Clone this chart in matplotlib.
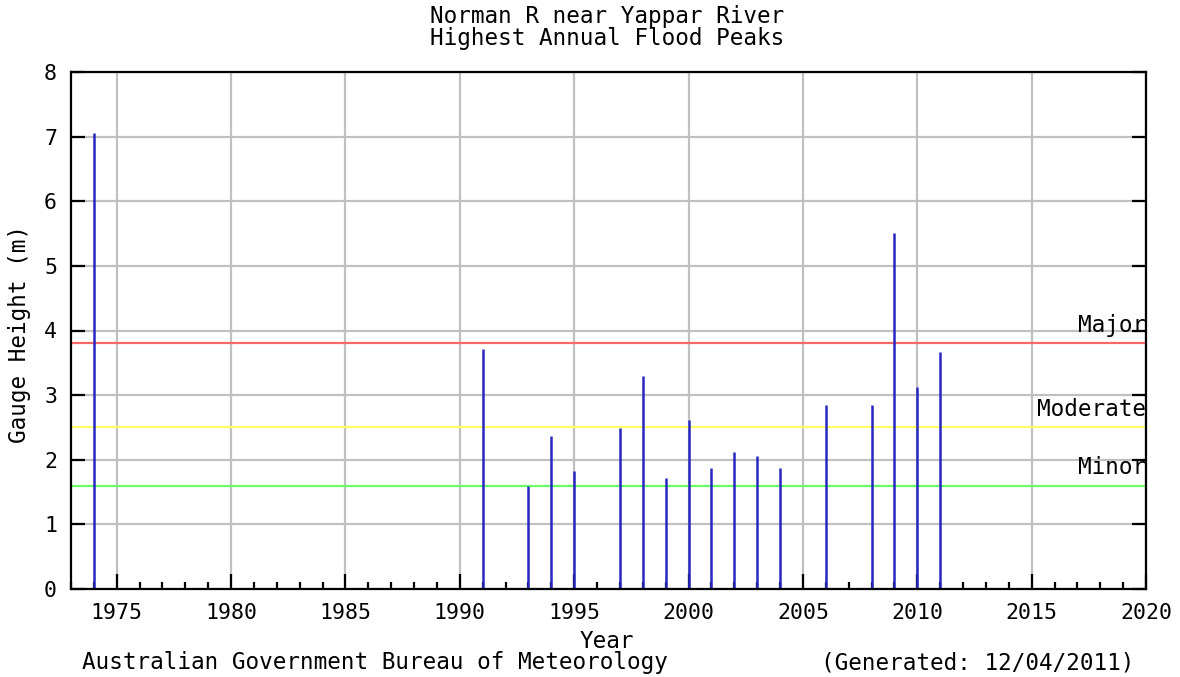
import matplotlib
matplotlib.use("Agg")
import matplotlib.pyplot as plt
from matplotlib.ticker import MultipleLocator

years = [1974, 1991, 1993, 1994, 1995, 1997, 1998, 1999, 2000, 2001, 2002,
         2003, 2004, 2006, 2008, 2009, 2010, 2011]
peaks = [7.06, 3.71, 1.60, 2.36, 1.82, 2.49, 3.30, 1.72, 2.61, 1.88, 2.12,
         2.06, 1.87, 2.85, 2.85, 5.51, 3.13, 3.67]
threshold_names = ["Major", "Moderate", "Minor"]
threshold_values = [3.8, 2.5, 1.6]
threshold_colors = ["#ff6666", "#ffff66", "#66ff66"]

FONT = "DejaVu Sans Mono"
FS = 16.3
FS_TICK = 15.5

fig = plt.figure(figsize=(11.8, 6.77), dpi=100)
ax = fig.add_axes([71/1180, 1-589/677, (1146-71)/1180, (589-72)/677])

ax.set_xlim(1973.0, 2020)
ax.set_ylim(0, 8)

ax.xaxis.set_major_locator(MultipleLocator(5))
ax.xaxis.set_minor_locator(MultipleLocator(1))
ax.yaxis.set_major_locator(MultipleLocator(1))

ax.grid(True, which="major", color="#c0c0c0", linewidth=1.6, zorder=0)
ax.set_axisbelow(True)

for name, val, col in zip(threshold_names, threshold_values, threshold_colors):
    ax.axhline(val, color=col, linewidth=1.6, zorder=1)
    ax.text(2020, val + 0.1, name, ha="right", va="bottom", fontsize=FS,
            family=FONT, zorder=3)

ax.vlines(years, 0, peaks, color="#2828c0", linewidth=1.8, zorder=2)

for s in ax.spines.values():
    s.set_linewidth(1.6)
    s.set_color("black")

ax.tick_params(axis="both", which="both", direction="in", color="black",
               labelsize=FS_TICK, width=1.6)
ax.tick_params(axis="x", which="major", length=11, top=False, pad=10)
ax.tick_params(axis="x", which="minor", length=5, top=False)
ax.tick_params(axis="y", which="major", length=10, right=True, pad=10)
for lab in ax.get_xticklabels() + ax.get_yticklabels():
    lab.set_family(FONT)

ax.set_xlabel("Year", fontsize=FS, family=FONT, va="center")
ax.xaxis.set_label_coords(607/1180, 1-642/677, transform=fig.transFigure)
ax.set_ylabel("Gauge Height (m)", fontsize=FS, family=FONT, va="center")
ax.yaxis.set_label_coords(20/1180, 1-334/677, transform=fig.transFigure)

fig.text(607/1180, 1-17/677, "Norman R near Yappar River", ha="center",
         va="center", fontsize=FS, family=FONT)
fig.text(607/1180, 1-39/677, "Highest Annual Flood Peaks", ha="center",
         va="center", fontsize=FS, family=FONT)
fig.text(82/1180, 1-663/677, "Australian Government Bureau of Meteorology",
         ha="left", va="center", fontsize=FS, family=FONT)
fig.text(1134/1180, 1-663/677, "(Generated: 12/04/2011)", ha="right",
         va="center", fontsize=FS, family=FONT)

fig.savefig("out.png", dpi=100, facecolor="white")
